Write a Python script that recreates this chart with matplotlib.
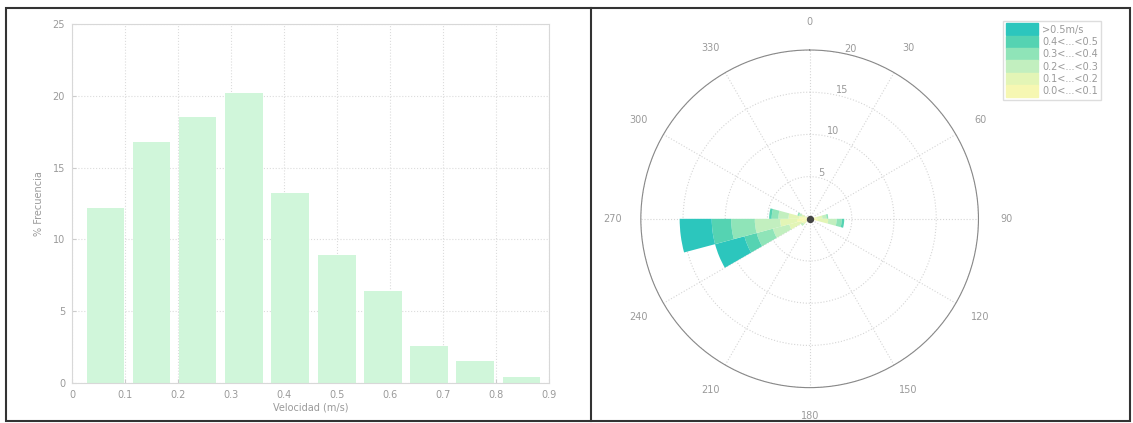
import numpy as np
import matplotlib.pyplot as plt
from matplotlib.patches import Rectangle

# ---- histogram data (10 bins between min and max velocity) ----
vel_centers = [0.063, 0.150, 0.237, 0.325, 0.412, 0.500, 0.587, 0.674, 0.761, 0.848]
freq = [12.2, 16.8, 18.5, 20.2, 13.2, 8.9, 6.4, 2.6, 1.5, 0.45]
x_ticks = [0, 0.1, 0.2, 0.3, 0.4, 0.5, 0.6, 0.7, 0.8, 0.9]
y_ticks = [0, 5, 10, 15, 20, 25]

# ---- wind rose data (sector start/end in degrees, stacked speed bins) ----
sector_start = [240, 255, 270, 285, 75, 90, 225]
sector_end = [255, 270, 285, 300, 90, 105, 240]
bin_labels = ['0.0<...<0.1', '0.1<...<0.2', '0.2<...<0.3',
              '0.3<...<0.4', '0.4<...<0.5', '>0.5m/s']
bin_colors = ['#f6f7b2', '#e3f5b6', '#c2efbf', '#8fe4b8', '#55d3b2', '#2cc6bd']
# frequency (%) of each speed bin in each sector
sector_freq = [
    [1.0, 1.5, 2.0, 2.0, 1.5, 3.6],   # 240-255
    [1.5, 2.0, 3.0, 2.8, 2.3, 3.8],   # 255-270
    [1.2, 1.3, 1.2, 0.8, 0.3, 0.0],   # 270-285
    [0.5, 0.5, 0.3, 0.2, 0.0, 0.0],   # 285-300
    [0.8, 0.7, 0.5, 0.2, 0.0, 0.0],   # 75-90
    [1.0, 1.2, 1.0, 0.6, 0.3, 0.0],   # 90-105
    [0.5, 0.4, 0.3, 0.0, 0.0, 0.0],   # 225-240
]
r_ticks = [5, 10, 15, 20]
theta_ticks = list(range(0, 360, 30))

txt = '#9a9a9a'
fig = plt.figure(figsize=(11.33, 4.23), dpi=100)

# ---- left: histogram ----
ax = fig.add_axes([0.0635, 0.0946, 0.421, 0.849])
ax.bar(vel_centers, freq, width=0.071, color='#d0f6da', edgecolor='none', zorder=2)
ax.set_xlim(0, 0.9)
ax.set_ylim(0, 25)
ax.set_xticks(x_ticks)
ax.set_xticklabels([('%g' % t) for t in x_ticks])
ax.set_yticks(y_ticks)
ax.grid(True, linestyle=':', color='#dcdcdc', linewidth=0.8, zorder=0)
ax.tick_params(direction='in', colors='#cccccc', labelcolor=txt, labelsize=7, length=3, pad=5)
for s in ax.spines.values():
    s.set_color('#d8d8d8')
ax.set_xlabel('Velocidad (m/s)', color=txt, fontsize=7, labelpad=2)
ax.set_ylabel('% Frecuencia', color=txt, fontsize=7, labelpad=6)

# ---- right: wind rose ----
pax = fig.add_axes([0.5656, 0.0827, 0.298, 0.80], projection='polar')
pax.set_theta_zero_location('N')
pax.set_theta_direction(-1)
for i in range(len(sector_start)):
    th0 = np.deg2rad(sector_start[i])
    w = np.deg2rad(sector_end[i] - sector_start[i])
    base = 0
    for j, v in enumerate(sector_freq[i]):
        if v > 0:
            pax.bar(th0, v, width=w, bottom=base, align='edge',
                    color=bin_colors[j], edgecolor='none', zorder=3)
        base += v
pax.scatter([0], [0], s=18, color='#444444', zorder=4)
pax.set_ylim(0, 20)
pax.set_rticks(r_ticks)
pax.set_rlabel_position(12)
pax.set_thetagrids(theta_ticks, labels=[str(t) for t in theta_ticks])
pax.grid(True, linestyle=':', color='#d5d5d5', linewidth=0.8)
pax.spines['polar'].set_color('#888888')
pax.tick_params(labelcolor=txt, labelsize=7, pad=10)

handles = [Rectangle((0, 0), 1, 1, color=c) for c in bin_colors[::-1]]
leg = fig.legend(handles, bin_labels[::-1], loc='upper left',
                 bbox_to_anchor=(0.881, 0.963), fontsize=7, labelcolor=txt,
                 handlelength=3.3, handleheight=1.5, handletextpad=0.4,
                 labelspacing=0.05, borderpad=0.3, fancybox=False, framealpha=1)
leg.get_frame().set_edgecolor('#dddddd')

# page border and divider
fig.add_artist(Rectangle((6 / 1133, 2 / 423), 1124 / 1133, 413 / 423, transform=fig.transFigure,
                         fill=False, edgecolor='#333333', linewidth=1.5))
fig.add_artist(plt.Line2D([591 / 1133, 591 / 1133], [2 / 423, 415 / 423],
                          transform=fig.transFigure, color='#333333', linewidth=1.5))

fig.savefig('out.png', dpi=100)
